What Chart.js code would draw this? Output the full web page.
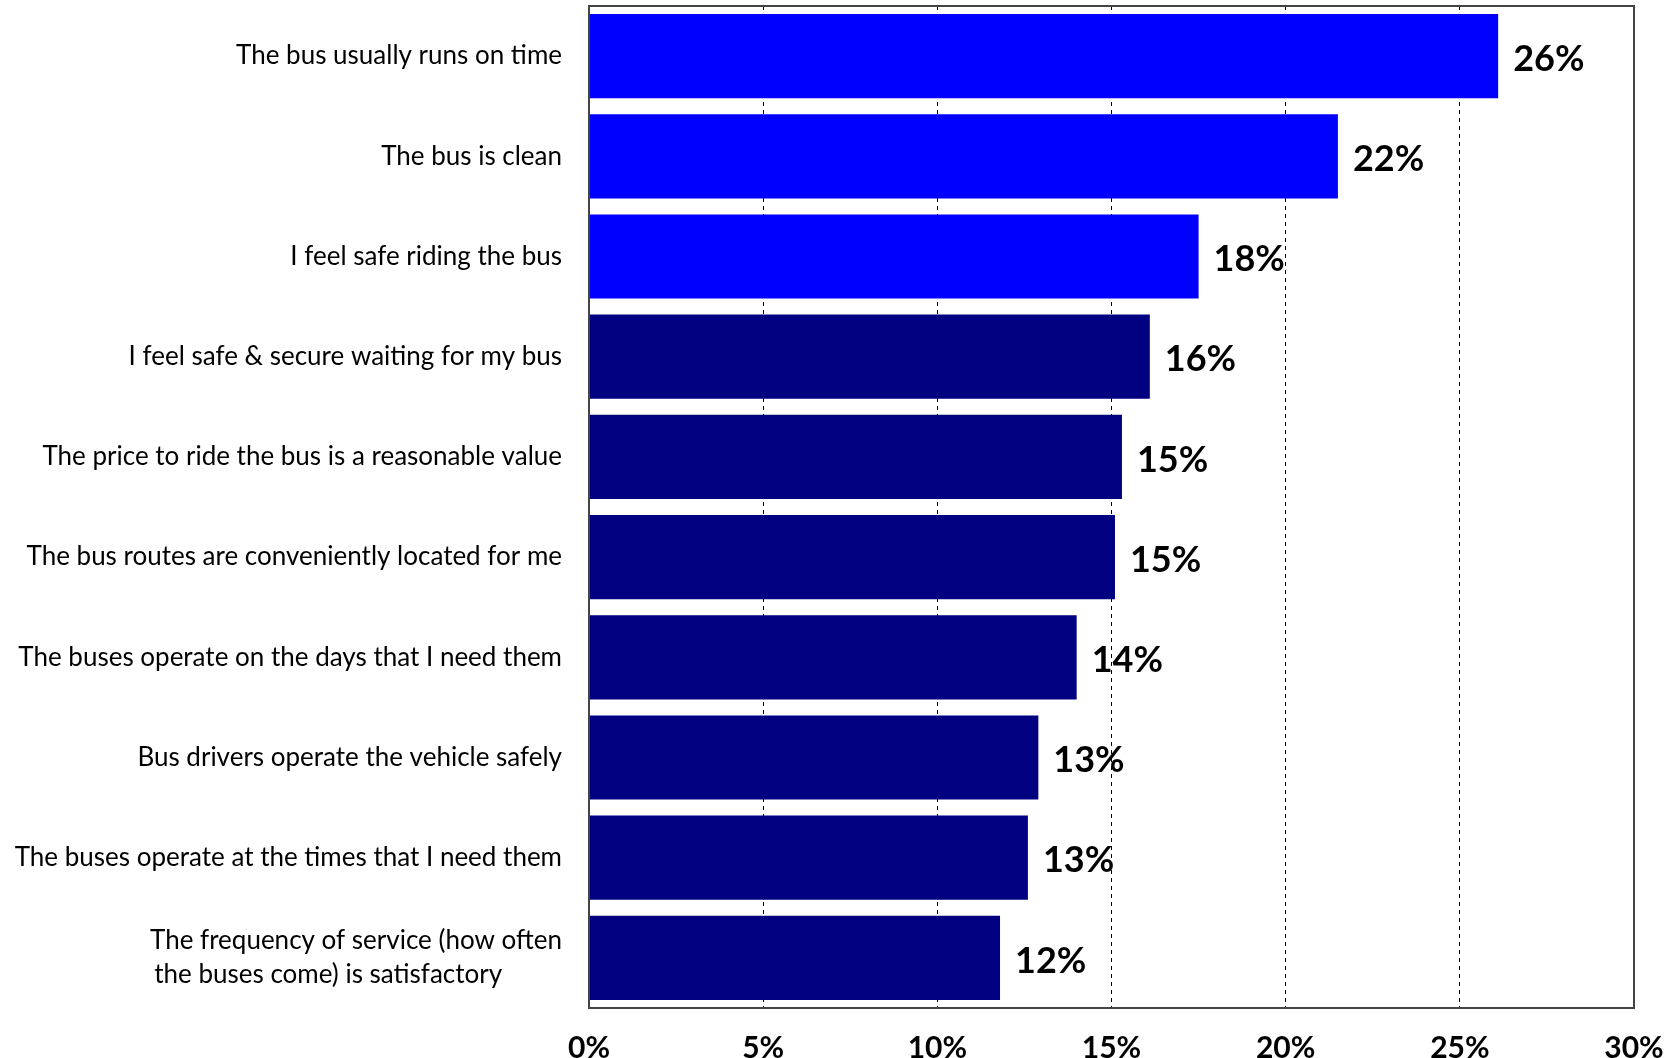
<!DOCTYPE html>
<html>
<head>
<meta charset="utf-8">
<script src="https://cdn.jsdelivr.net/npm/chart.js@4/dist/chart.umd.min.js"></script>
<style>
  body { margin: 0; background: #fff; }
  #wrap { width: 1671px; height: 1058px; }
</style>
</head>
<body>
<div id="wrap"><canvas id="myChart" width="1671" height="1058"></canvas></div>
<script>
// survey items, top to bottom
var categories = [
    "The bus usually runs on time",
    "The bus is clean",
    "I feel safe riding the bus",
    "I feel safe & secure waiting for my bus",
    "The price to ride the bus is a reasonable value",
    "The bus routes are conveniently located for me",
    "The buses operate on the days that I need them",
    "Bus drivers operate the vehicle safely",
    "The buses operate at the times that I need them",
    // trailing spaces keep the second line flush left like the original
    ["The frequency of service (how often", "the buses come) is satisfactory         "]
];
var values = [26.1, 21.5, 17.5, 16.1, 15.3, 15.1, 14.0, 12.9, 12.6, 11.8];
var valueLabels = ["26%", "22%", "18%", "16%", "15%", "15%", "14%", "13%", "13%", "12%"];
var xTicks = [0, 5, 10, 15, 20, 25, 30];

var BRIGHT = "#0000ff";
var NAVY = "#000080";
var barColors = values.map(function (v, i) { return i < 3 ? BRIGHT : NAVY; });

var FONT = "Lato, 'Open Sans', sans-serif";

function noPad(scale) {
    scale.paddingTop = 0;
    scale.paddingBottom = 0;
    scale.paddingLeft = 0;
    scale.paddingRight = 0;
}

// draws the percent next to each bar and the box round the plot
var barLabelPlugin = {
    id: "barLabels",
    afterDatasetsDraw: function (chart) {
        var ctx = chart.ctx;
        var meta = chart.getDatasetMeta(0);
        ctx.save();
        ctx.fillStyle = "#000";
        ctx.font = "bold 36px " + FONT;
        ctx.textAlign = "left";
        ctx.textBaseline = "middle";
        meta.data.forEach(function (bar, i) {
            ctx.fillText(valueLabels[i], bar.x + 15, bar.y + 3);
        });
        ctx.restore();
    },
    afterDraw: function (chart) {
        var a = chart.chartArea;
        var ctx = chart.ctx;
        ctx.save();
        ctx.strokeStyle = "#444";
        ctx.lineWidth = 2;
        ctx.strokeRect(a.left, a.top, a.right - a.left, a.bottom - a.top);
        ctx.restore();
    }
};

var ctx = document.getElementById("myChart");
var myChart = new Chart(ctx, {
    type: "bar",
    data: {
        labels: categories,
        datasets: [{
            data: values,
            backgroundColor: barColors,
            borderWidth: 0,
            barPercentage: 0.84,
            categoryPercentage: 1.0
        }]
    },
    options: {
        indexAxis: "y",
        responsive: false,
        animation: false,
        layout: { padding: { top: 6, right: 37, left: 0, bottom: 0 } },
        plugins: {
            legend: { display: false },
            tooltip: { enabled: false }
        },
        scales: {
            x: {
                min: 0,
                max: 30,
                afterBuildTicks: function (scale) {
                    scale.ticks = xTicks.map(function (v) { return { value: v }; });
                },
                afterFit: function (scale) { scale.height = 50; noPad(scale); },
                grid: {
                    drawTicks: false,
                    lineWidth: 1,
                    color: function (c) {
                        if (c.tick && (c.tick.value === 0 || c.tick.value === 30)) return "rgba(0,0,0,0)";
                        return "#000";
                    }
                },
                border: { display: false, dash: [4, 4] },
                ticks: {
                    padding: 22,
                    color: "#000",
                    font: { family: FONT, size: 30, weight: "bold" },
                    callback: function (v) { return v + "%"; }
                }
            },
            y: {
                afterFit: function (scale) { scale.width = 589; noPad(scale); },
                grid: { display: false, drawTicks: false },
                border: { display: false },
                ticks: {
                    padding: 27,
                    color: "#000",
                    font: { family: FONT, size: 26, lineHeight: 1.3 },
                    autoSkip: false
                }
            }
        }
    },
    plugins: [barLabelPlugin]
});
</script>
</body>
</html>
